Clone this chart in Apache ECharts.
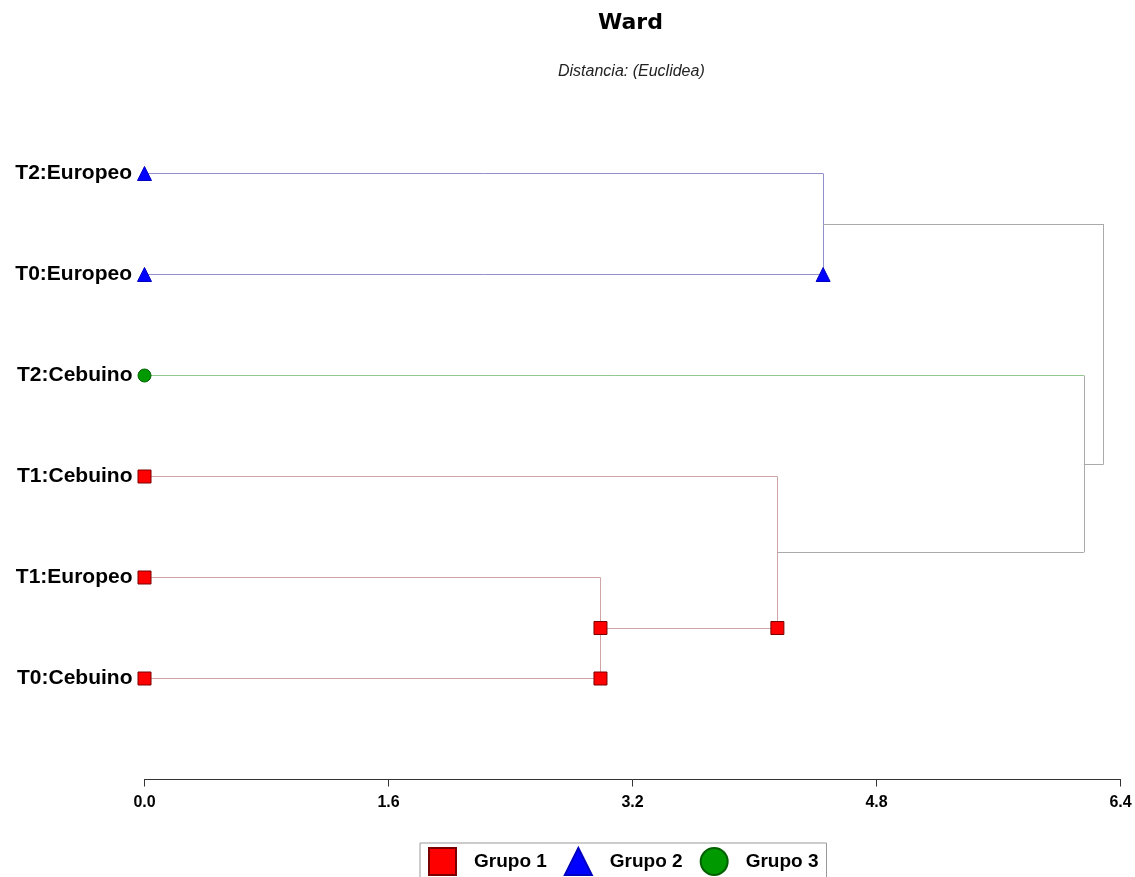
<!DOCTYPE html>
<html>
<head>
<meta charset="utf-8">
<script src="https://cdn.jsdelivr.net/npm/echarts@6/dist/echarts.min.js"></script>
<style>
  html, body { margin: 0; padding: 0; background: #fff; }
  #chart { width: 1135px; height: 877px; }
</style>
</head>
<body>
<div id="chart"></div>
<script>
// hojas del dendrograma (de arriba a abajo)
var leafNames = ['T2:Europeo', 'T0:Europeo', 'T2:Cebuino', 'T1:Cebuino', 'T1:Europeo', 'T0:Cebuino'];
var leafGroups = [2, 2, 3, 1, 1, 1];
// uniones: nodo a, nodo b, distancia, grupo (0 = entre grupos)
var mergeA = [0, 4, 3, 2, 6];
var mergeB = [1, 5, 7, 8, 9];
var mergeHeights = [4.45, 2.99, 4.15, 6.16, 6.29];
var mergeGroups = [2, 1, 1, 0, 0];
var groupNames = ['Grupo 1', 'Grupo 2', 'Grupo 3'];
var xTicks = [0, 1.6, 3.2, 4.8, 6.4];

var groupColors = ['#ff0000', '#0000ff', '#009a00'];
var groupBorders = ['#7a0000', '#0000c0', '#006000'];
var groupSymbols = ['rect', 'triangle', 'circle'];
var groupSizes = [13, 14, 13];
var linkColors = ['#cfa4a4', '#9090cc', '#90c890'];
var grayLink = '#aaaaaa';

var myChart = echarts.init(document.getElementById('chart'));

// posiciones de los nodos
var nodes = leafNames.map(function(name, i) {
  return { x: 0, y: i, leaf: true };
});
mergeHeights.forEach(function(h, k) {
  var a = nodes[mergeA[k]], b = nodes[mergeB[k]];
  nodes.push({ x: h, y: (a.y + b.y) / 2, leaf: false });
});

function segColor(child, g) {
  if (child < leafNames.length) return linkColors[leafGroups[child] - 1];
  return g ? linkColors[g - 1] : grayLink;
}

var segments = [];
var markers = [[], [], []];
leafNames.forEach(function(name, i) {
  markers[leafGroups[i] - 1].push({ value: [0, i], name: name, label: { show: true } });
});
mergeHeights.forEach(function(h, k) {
  var a = mergeA[k], b = mergeB[k], g = mergeGroups[k];
  var na = nodes[a], nb = nodes[b];
  segments.push({ coords: [[na.x, na.y], [h, na.y]], lineStyle: { color: segColor(a, g) } });
  segments.push({ coords: [[nb.x, nb.y], [h, nb.y]], lineStyle: { color: segColor(b, g) } });
  segments.push({ coords: [[h, na.y], [h, nb.y]], lineStyle: { color: g ? linkColors[g - 1] : grayLink } });
  if (g) {
    if (!nb.leaf) markers[g - 1].push({ value: [nb.x, nb.y] });
    markers[g - 1].push({ value: [h, nb.y] });
  }
});

var series = [{
  type: 'lines',
  coordinateSystem: 'cartesian2d',
  silent: true,
  z: 1,
  lineStyle: { width: 1, opacity: 1 },
  data: segments
}];
groupNames.forEach(function(name, i) {
  series.push({
    name: name,
    type: 'scatter',
    z: 3,
    symbol: groupSymbols[i],
    symbolSize: groupSizes[i],
    itemStyle: { color: groupColors[i], borderColor: groupBorders[i], borderWidth: 1, opacity: 1 },
    label: {
      show: false,
      position: 'left',
      distance: 5,
      formatter: '{b}',
      fontSize: 21,
      fontWeight: 'bold',
      color: '#000'
    },
    emphasis: { disabled: true },
    data: markers[i]
  });
});

var option = {
  animation: false,
  textStyle: { fontFamily: 'Liberation Sans, Arial, sans-serif' },
  title: [{
    text: 'Ward',
    left: 598,
    top: 12,
    padding: 0,
    textStyle: { fontSize: 22, fontWeight: 'bold', fontFamily: 'DejaVu Sans', color: '#000' }
  }, {
    text: 'Distancia: (Euclidea)',
    left: 558,
    top: 64,
    padding: 0,
    textStyle: { fontSize: 16, fontStyle: 'italic', fontWeight: 'normal', color: '#222' }
  }],
  legend: {
    data: groupNames,
    left: 420,
    top: 843,
    padding: [4, 8, 4, 8],
    itemWidth: 27,
    itemHeight: 27,
    itemGap: 17,
    borderColor: '#999',
    borderWidth: 1,
    selectedMode: false,
    textStyle: { fontSize: 19, fontWeight: 'bold', color: '#000', padding: [0, 0, 0, 13] }
  },
  grid: {
    left: 144.5,
    right: 14.5,
    top: 123,
    bottom: 97.5,
    outerBoundsMode: 'none'
  },
  xAxis: {
    type: 'value',
    position: 'bottom',
    min: xTicks[0],
    max: xTicks[xTicks.length - 1],
    interval: xTicks[1] - xTicks[0],
    axisLine: { show: true, onZero: false, lineStyle: { color: '#333', width: 1 } },
    axisTick: { show: true, length: 7, lineStyle: { color: '#333' } },
    axisLabel: {
      formatter: function(v) { return v.toFixed(1); },
      fontSize: 16,
      fontWeight: 'bold',
      color: '#000',
      margin: 15
    },
    splitLine: { show: false }
  },
  yAxis: {
    type: 'value',
    min: -0.5,
    max: 6,
    inverse: true,
    show: false
  },
  series: series
};

myChart.setOption(option);
</script>
</body>
</html>
